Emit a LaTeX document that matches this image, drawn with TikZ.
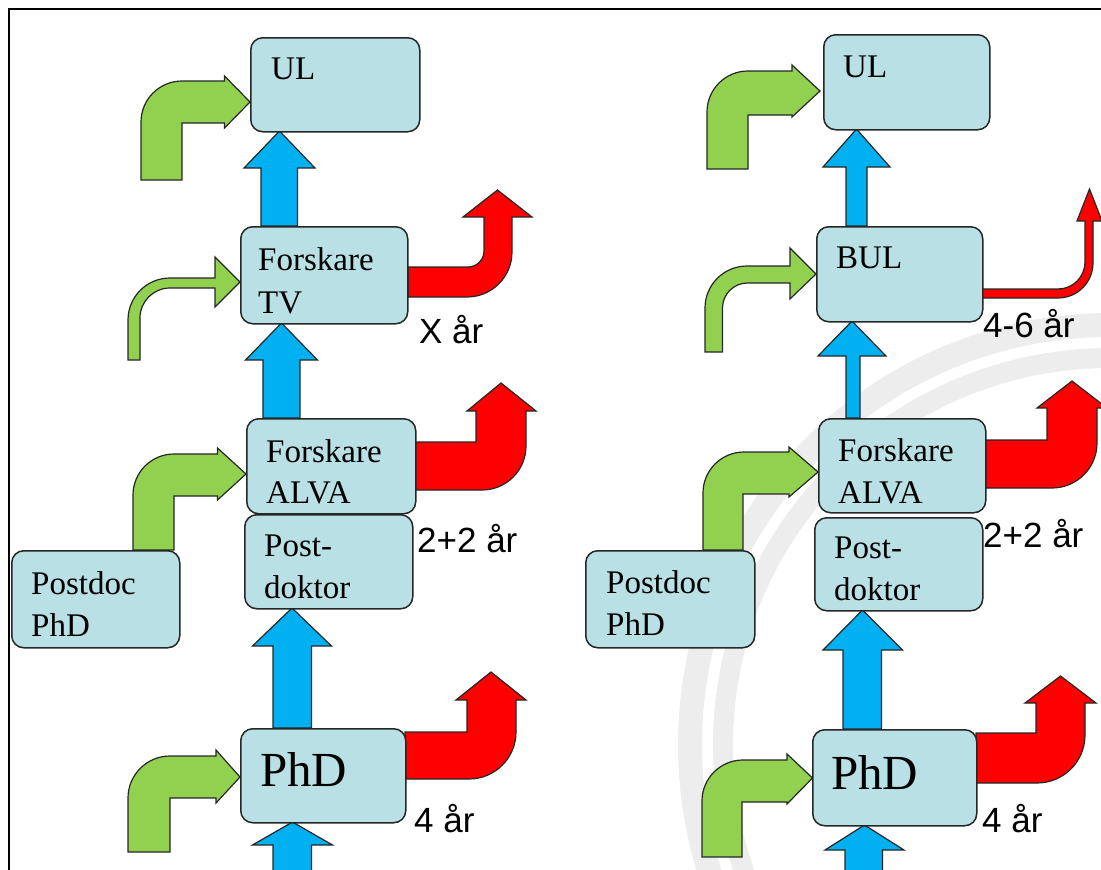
\documentclass[tikz,border=0pt]{standalone}
\usepackage{fontspec}
\setmainfont{Liberation Serif}
\setsansfont{Liberation Sans}
\definecolor{boxfill}{RGB}{185,224,228}
\definecolor{flgreen}{RGB}{146,208,80}
\definecolor{flblue}{RGB}{0,176,240}
\definecolor{flred}{RGB}{255,0,0}
\definecolor{sigill}{RGB}{237,237,237}

\begin{document}
\begin{tikzpicture}[x=1pt, y=-1pt,
    boite/.style={draw=black!85, line width=1.5pt, fill=boxfill, rounded corners=12pt, inner sep=0pt, anchor=north west},
    texte/.style={anchor=base west, inner sep=0pt, font=\fontsize{33}{40}\selectfont},
    stor/.style={anchor=base west, inner sep=0pt, font=\fontsize{49}{58}\selectfont},
    annee/.style={anchor=base west, inner sep=0pt, font=\sffamily\fontsize{35}{42}\selectfont},
    fleche/.style={draw=black!85, line width=1.2pt, line join=miter}]

    \useasboundingbox (0,0) rectangle (1101,870);

    % sigill i bakgrunden
    \draw[sigill, line width=24pt] (1110,745) circle (420);
    \draw[sigill, line width=20pt] (1110,745) circle (387);

    \draw[line width=1.2pt] (9,870) -- (9,9) -- (1101,9);

    % blaa pilar, vaenster
    \draw[fleche, fill=flblue] (261,226) -- (261,168) -- (244,168) -- (279.5,131) -- (315,168) -- (297.5,168) -- (297.5,226) -- cycle;
    \draw[fleche, fill=flblue] (263,418) -- (263,360) -- (245.5,360) -- (281.5,323) -- (317.5,360) -- (300,360) -- (300,418) -- cycle;
    \draw[fleche, fill=flblue] (273,728) -- (273,646) -- (252.5,646) -- (292,608) -- (331.5,646) -- (311.5,646) -- (311.5,728) -- cycle;
    \draw[fleche, fill=flblue] (273,875) -- (273,845) -- (252.5,845) -- (292.5,822) -- (332.5,845) -- (311.5,845) -- (311.5,875) -- cycle;

    % blaa pilar, hoeger
    \draw[fleche, fill=flblue] (846,226) -- (846,167) -- (823,167) -- (856.5,129) -- (890,167) -- (867,167) -- (867,226) -- cycle;
    \draw[fleche, fill=flblue] (846,418) -- (846,356) -- (818,356) -- (852,321) -- (886,356) -- (860,356) -- (860,418) -- cycle;
    \draw[fleche, fill=flblue] (843,729) -- (843,650) -- (823,650) -- (862.5,610) -- (902.5,650) -- (881.5,650) -- (881.5,729) -- cycle;
    \draw[fleche, fill=flblue] (845,875) -- (845,850) -- (825,850) -- (864.5,825) -- (904,850) -- (882.5,850) -- (882.5,875) -- cycle;

    % groena pilar, vaenster
    \draw[fleche, fill=flgreen] (141,180) -- (141,122) arc[start angle=180, end angle=270, radius=41] -- (224.5,81) -- (224.5,76) -- (250,102) -- (224.5,128) -- (224.5,123) -- (182,123) -- (182,180) -- cycle;
    \draw[fleche, fill=flgreen] (128,360) -- (128,320) arc[start angle=180, end angle=270, radius=42] -- (215,278) -- (215,257) -- (240,282) -- (215,307) -- (215,288) -- (170,288) arc[start angle=270, end angle=180, radius=30] -- (140,360) -- cycle;
    \draw[fleche, fill=flgreen] (133,550) -- (133,495) arc[start angle=180, end angle=270, radius=41] -- (217.5,454) -- (217.5,448) -- (246,474) -- (217.5,500) -- (217.5,496) -- (174,496) -- (174,550) -- cycle;
    \draw[fleche, fill=flgreen] (128,852) -- (128,798) arc[start angle=180, end angle=270, radius=42] -- (216,756) -- (216,750) -- (240,777) -- (216,803) -- (216,798) -- (170,798) -- (170,852) -- cycle;

    % groena pilar, hoeger
    \draw[fleche, fill=flgreen] (707,169) -- (707,112) arc[start angle=180, end angle=270, radius=41] -- (792,71) -- (792,65) -- (820,91) -- (792,117) -- (792,115) -- (748,115) -- (748,169) -- cycle;
    \draw[fleche, fill=flgreen] (705,352) -- (705,308) arc[start angle=180, end angle=270, radius=42] -- (790,266) -- (790,248) -- (816,274) -- (790,299) -- (790,283) -- (747.5,283) arc[start angle=270, end angle=180, radius=25] -- (722.5,352) -- cycle;
    \draw[fleche, fill=flgreen] (703,550) -- (703,493) arc[start angle=180, end angle=270, radius=41] -- (789,452) -- (789,447) -- (818,472) -- (789,497) -- (789,494) -- (743,494) -- (743,550) -- cycle;
    \draw[fleche, fill=flgreen] (702,857) -- (702,801) arc[start angle=180, end angle=270, radius=41] -- (787,760) -- (787,754) -- (812.5,778) -- (787,804) -- (787,802) -- (742,802) -- (742,857) -- cycle;

    % roeda pilar, vaenster
    \draw[fleche, fill=flred] (408,267) -- (468,267) arc[start angle=90, end angle=0, radius=16] -- (484,217) -- (463,217) -- (497.5,190) -- (532,217) -- (512,217) -- (512,252) arc[start angle=0, end angle=90, radius=45] -- (408,297) -- cycle;
    \draw[fleche, fill=flred] (415,442) -- (476,442) -- (476,411) -- (467,411) -- (501,383) -- (536,411) -- (526,411) -- (526,446) arc[start angle=0, end angle=90, radius=44] -- (415,490) -- cycle;
    \draw[fleche, fill=flred] (405,732) -- (467,732) -- (467,700) -- (456,700) -- (491,672) -- (526,700) -- (516,700) -- (516,732) arc[start angle=0, end angle=90, radius=47] -- (405,779) -- cycle;

    % roeda pilar, hoeger
    \draw[fleche, fill=flred] (982,289) -- (1058,289) arc[start angle=90, end angle=0, radius=27] -- (1085,221) -- (1077,221) -- (1089.5,189) -- (1102,221) -- (1093,221) -- (1093,263) arc[start angle=0, end angle=90, radius=35] -- (982,298) -- cycle;
    \draw[fleche, fill=flred] (985,440) -- (1047,440) -- (1047,408) -- (1037,408) -- (1072,381) -- (1107,408) -- (1097,408) -- (1097,443) arc[start angle=0, end angle=90, radius=45] -- (985,488) -- cycle;
    \draw[fleche, fill=flred] (976,733) -- (1036,733) -- (1036,703) -- (1025,703) -- (1060.5,676) -- (1096,703) -- (1085,703) -- (1085,735) arc[start angle=0, end angle=90, radius=48] -- (976,783) -- cycle;

    % rutor, vaenster
    \node[boite, minimum width=169, minimum height=94] (ulL) at (250,37) {};
    \node[boite, minimum width=167, minimum height=97] (tvL) at (240,226) {};
    \node[boite, minimum width=169, minimum height=95] (alL) at (246,418) {};
    \node[boite, minimum width=168, minimum height=94] (pdL) at (244,514) {};
    \node[boite, minimum width=168, minimum height=97] (pcL) at (11,550) {};
    \node[boite, minimum width=165, minimum height=94] (phL) at (240,728) {};

    % rutor, hoeger
    \node[boite, minimum width=166, minimum height=95] (ulR) at (823,34) {};
    \node[boite, minimum width=166, minimum height=95] (bulR) at (816,226) {};
    \node[boite, minimum width=167, minimum height=94] (alR) at (818,418) {};
    \node[boite, minimum width=168, minimum height=93] (pdR) at (814,517) {};
    \node[boite, minimum width=169, minimum height=97] (pcR) at (585,550) {};
    \node[boite, minimum width=164, minimum height=96] (phR) at (812,729) {};

    % texter, vaenster
    \node[texte] (ulLa) at (271,79) {UL};
    \node[texte] (tvLa) at (258,270) {Forskare};
    \node[texte] (tvLb) at (258,313) {TV};
    \node[texte] (alLa) at (266,462) {Forskare};
    \node[texte] (alLb) at (266,503) {ALVA};
    \node[texte] (pdLa) at (264,556) {Post-};
    \node[texte] (pdLb) at (264,598) {doktor};
    \node[texte] (pcLa) at (31,594) {Postdoc};
    \node[texte] (pcLb) at (31,636) {PhD};
    \node[stor] (phLa) at (260,786) {PhD};

    % texter, hoeger
    \node[texte] (ulRa) at (843,77) {UL};
    \node[texte] (bulRa) at (836,268) {BUL};
    \node[texte] (alRa) at (838,461) {Forskare};
    \node[texte] (alRb) at (838,503) {ALVA};
    \node[texte] (pdRa) at (834,558) {Post-};
    \node[texte] (pdRb) at (834,600) {doktor};
    \node[texte] (pcRa) at (606,593) {Postdoc};
    \node[texte] (pcRb) at (606,635) {PhD};
    \node[stor] (phRa) at (831,789) {PhD};

    % aar
    \node[annee] (tvLy) at (419,343) {X år};
    \node[annee] (pdLy) at (417,552) {2+2 år};
    \node[annee] (phLy) at (414,832) {4 år};
    \node[annee] (bulRy) at (983,337) {4-6 år};
    \node[annee] (pdRy) at (983,547) {2+2 år};
    \node[annee] (phRy) at (982,832) {4 år};

\end{tikzpicture}
\end{document}
